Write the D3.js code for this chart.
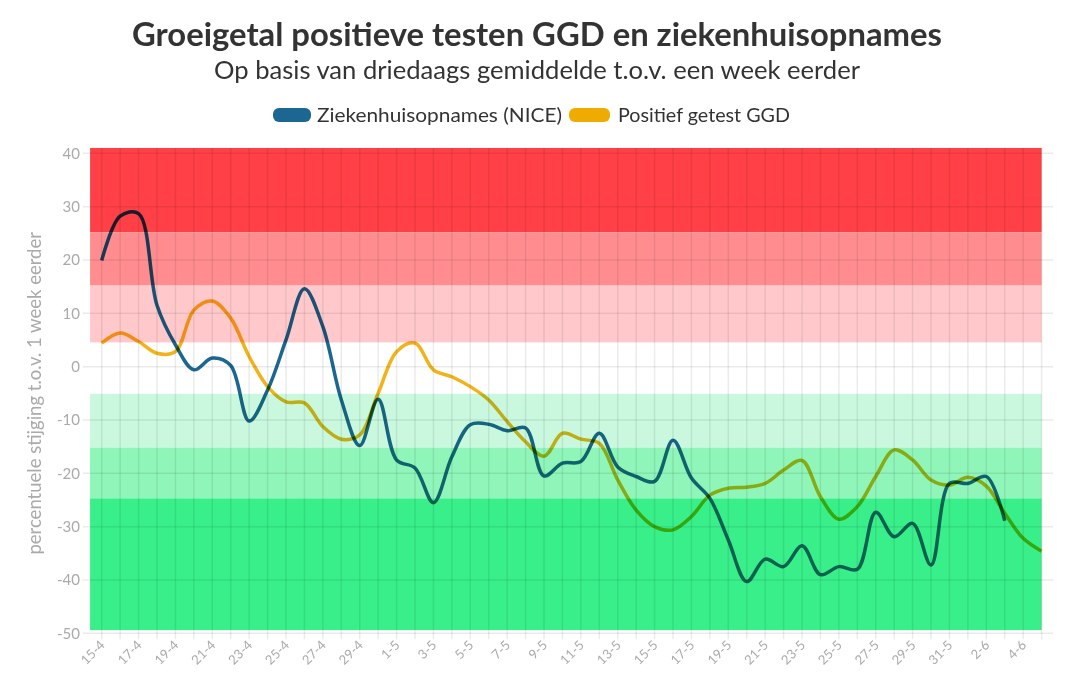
<!DOCTYPE html>
<html><head><meta charset="utf-8">
<script src="https://cdn.jsdelivr.net/npm/d3@7"></script>
<style>body{margin:0;background:#fff}svg{display:block}</style>
</head><body>
<svg id="c" width="1072" height="687"></svg>
<script>
// ---- data ----
const dates = ["15-4","16-4","17-4","18-4","19-4","20-4","21-4","22-4","23-4","24-4","25-4","26-4","27-4","28-4","29-4","30-4",
"1-5","2-5","3-5","4-5","5-5","6-5","7-5","8-5","9-5","10-5","11-5","12-5","13-5","14-5","15-5","16-5","17-5","18-5","19-5","20-5",
"21-5","22-5","23-5","24-5","25-5","26-5","27-5","28-5","29-5","30-5","31-5","1-6","2-6","3-6","4-6","5-6"];
const nice = [19.9,28.2,28.7,11.5,4.1,-0.6,1.6,0.2,-10.2,-4.4,5,14.6,7.5,-6.2,-14.8,-6.1,
-17.5,-19,-25.5,-16.9,-10.9,-10.8,-12,-11.5,-20.5,-18.1,-17.8,-12.5,-18.8,-20.6,-21.5,-13.8,-20.9,-24.7,-32.5,-40.3,
-36.1,-37.5,-33.6,-39,-37.5,-38,-27.3,-31.9,-29.4,-37.2,-21.9,-21.9,-20.6,-28.9];
const ggd = [4.4,6.3,4.7,2.5,2.8,10.6,12.3,9.1,1.9,-3.75,-6.6,-6.8,-11.25,-13.6,-12.8,-5,
2.8,4.4,-0.6,-1.9,-3.75,-6.25,-10.3,-14.1,-16.8,-12.5,-13.6,-14.4,-21.25,-26.9,-30,-30.6,-28.1,-24.1,-22.8,-22.6,
-21.9,-19.4,-17.6,-24.4,-28.6,-26.25,-20.6,-15.6,-17.5,-21.25,-22.2,-20.75,-22.4,-27.5,-32.2,-34.6];
const bandEdges = [41, 25.2, 15.2, 4.5, -5.1, -15.2, -24.7, -49.4];
const bandColors = ["#ff4046","#ff8d90","#ffc9cb","#ffffff","#c9f8df","#8ff5b9","#38ef89"];
const yTicks = [40,30,20,10,0,-10,-20,-30,-40,-50];
const seriesNames = ["Ziekenhuisopnames (NICE)","Positief getest GGD"];
const seriesColors = ["#1b6792","#f0ab00"];
const title = "Groeigetal positieve testen GGD en ziekenhuisopnames";
const subtitle = "Op basis van driedaags gemiddelde t.o.v. een week eerder";
const yLabel = "percentuele stijging t.o.v. 1 week eerder";

// ---- chart ----
const svg = d3.select("#c");
const font = "'Source Sans Pro', Lato, 'Open Sans', sans-serif";
const x = d3.scalePoint().domain(dates).range([101.7, 1041.6]);
const step = x.step();
const y = d3.scaleLinear().domain([-50, 40]).range([633.3, 153.3]);
const left = x(dates[0]) - step * 0.63, right = x(dates[dates.length-1]);

const defs = svg.append("defs");
const f = defs.append("filter").attr("id","sh").attr("x","-5%").attr("y","-200%").attr("width","110%").attr("height","500%");
f.append("feDropShadow").attr("dx",0).attr("dy",3).attr("stdDeviation",2.2).attr("flood-color","#000").attr("flood-opacity",0.35);

// bands
svg.append("g").selectAll("rect").data(bandColors).join("rect")
  .attr("x", left).attr("width", right - left)
  .attr("y", (d,i) => y(bandEdges[i])).attr("height", (d,i) => y(bandEdges[i+1]) - y(bandEdges[i]))
  .attr("fill", d => d);

// grid
const grid = svg.append("g");
grid.selectAll("line.v").data(dates).join("line").attr("class","v")
  .attr("x1", d => x(d)).attr("x2", d => x(d)).attr("y1", y(bandEdges[0])).attr("y2", y(-50) + 6)
  .attr("stroke","#000").attr("stroke-opacity",0.08).attr("stroke-width",1.5);
grid.selectAll("line.h").data(yTicks).join("line").attr("class","h")
  .attr("x1", 83).attr("x2", 1053).attr("y1", d => y(d)).attr("y2", d => y(d))
  .attr("stroke","#000").attr("stroke-opacity",0.08).attr("stroke-width",1.5);

// zero line
svg.append("line").attr("x1", left+3).attr("x2", right).attr("y1", y(0)).attr("y2", y(0))
  .attr("stroke","#9a9a9a").attr("stroke-width",7).attr("stroke-linecap","round").attr("filter","url(#sh)");

// y axis labels
svg.append("g").selectAll("text").data(yTicks).join("text")
  .attr("x", 80).attr("y", d => y(d)).attr("dy","0.35em").attr("text-anchor","end")
  .attr("font-family", font).attr("font-size", 15).attr("fill","#aaaaaa").text(d => d);

// x axis labels
svg.append("g").selectAll("text").data(dates.filter((d,i) => i % 2 === 0)).join("text")
  .attr("transform", d => `translate(${x(d)+4},${646}) rotate(-45)`)
  .attr("text-anchor","end").attr("font-family", font).attr("font-size", 13).attr("fill","#aaaaaa").text(d => d);

// y axis title
svg.append("text").attr("transform", `translate(41,${y(-5)}) rotate(-90)`).attr("text-anchor","middle")
  .attr("font-family", font).attr("font-size", 18.5).attr("fill","#aaaaaa").text(yLabel);

// lines
const line = d3.line().x((d,i) => x(dates[i])).y(d => y(d)).curve(d3.curveCatmullRom.alpha(0.5));
[nice, ggd].forEach((s, k) => {
  svg.append("path").datum(s).attr("d", line).attr("fill","none")
    .attr("stroke", seriesColors[k]).attr("stroke-width", 3.5).attr("stroke-linejoin","round")
    .style("mix-blend-mode", "multiply").attr("stroke-opacity", k === 0 ? 1 : 0.9);
});

// title
svg.append("text").attr("x", 537).attr("y", 46).attr("text-anchor","middle").attr("font-family", font)
  .attr("font-weight", 700).attr("font-size", 32).attr("fill","#333333")
  .attr("textLength", 810).attr("lengthAdjust","spacingAndGlyphs").text(title);
svg.append("text").attr("x", 537).attr("y", 79).attr("text-anchor","middle").attr("font-family", font)
  .attr("font-size", 25).attr("fill","#333333")
  .attr("textLength", 646).attr("lengthAdjust","spacingAndGlyphs").text(subtitle);

// legend
const lg = svg.append("g");
const legendItems = [{sx:273, sw:38, tx:317, tw:245}, {sx:569, sw:41, tx:618, tw:172}];
legendItems.forEach((it, k) => {
  lg.append("rect").attr("x", it.sx).attr("y", 108).attr("width", it.sw).attr("height", 14).attr("rx", 6)
    .attr("fill", seriesColors[k]);
  lg.append("text").attr("x", it.tx).attr("y", 122).attr("font-family", font).attr("font-size", 20)
    .attr("fill","#333333").attr("textLength", it.tw).attr("lengthAdjust","spacingAndGlyphs").text(seriesNames[k]);
});
</script>
</body></html>
